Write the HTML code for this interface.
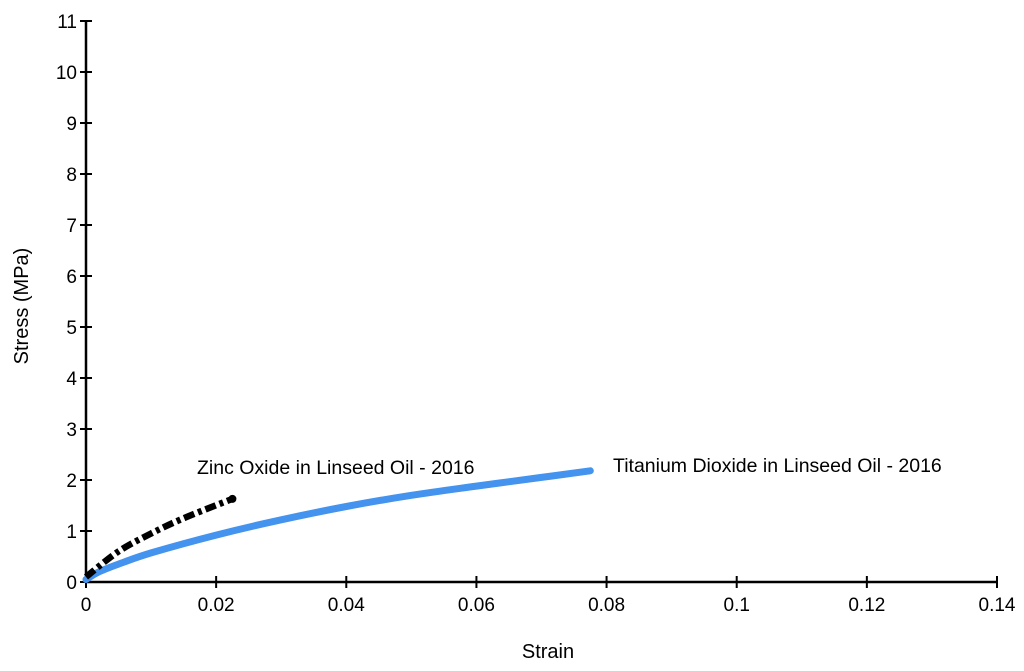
<!DOCTYPE html>
<html><head><meta charset="utf-8"><style>
body{margin:0;background:#fff;}
svg{display:block;font-family:"Liberation Sans",Arial,sans-serif;}
</style></head><body>
<svg id="chart" width="1024" height="671" viewBox="0 0 1024 671">
<g id="axes"></g><g id="series"></g>
<text transform="translate(28,306) rotate(-90)" text-anchor="middle" font-size="20">Stress (MPa)</text>
<text x="548" y="658" text-anchor="middle" font-size="20">Strain</text>
<text x="197" y="474" font-size="19.5">Zinc Oxide in Linseed Oil - 2016</text>
<text x="613" y="472" font-size="19.5">Titanium Dioxide in Linseed Oil - 2016</text>
</svg>
<script>
const xTicks=[0,0.02,0.04,0.06,0.08,0.1,0.12,0.14];
const xTickLabels=["0","0.02","0.04","0.06","0.08","0.1","0.12","0.14"];
const yTicks=[0,1,2,3,4,5,6,7,8,9,10,11];
const tiStrain=[0,0.002,0.005,0.01,0.02,0.03,0.04,0.05,0.06,0.07,0.0775];
const tiStress=[0.05,0.2,0.35,0.57,0.92,1.22,1.48,1.7,1.88,2.05,2.18];
const znStrain=[0,0.005,0.01,0.015,0.0225];
const znStress=[0.1,0.6,0.95,1.25,1.63];
const NS="http://www.w3.org/2000/svg";
const X=v=>86+v/0.14*911, Y=v=>582-v*51;
const ax=document.getElementById('axes'), se=document.getElementById('series');
function mk(tag,attrs,parent){const e=document.createElementNS(NS,tag);for(const k in attrs)e.setAttribute(k,attrs[k]);parent.appendChild(e);return e;}
let l=mk('line',{x1:86,y1:Y(0),x2:X(0.14),y2:Y(0),stroke:'#000','stroke-width':2.5},ax);


l=mk('line',{x1:86,y1:Y(0),x2:86,y2:Y(11),stroke:'#000','stroke-width':2.5},ax);


xTicks.forEach((v,i)=>{
 const t=mk('line',{x1:X(v),y1:Y(0)-6,x2:X(v),y2:Y(0)+6,stroke:'#000','stroke-width':2},ax);
 
 
 const tx=mk('text',{x:X(v),y:611,'text-anchor':'middle','font-size':19},ax);
 tx.textContent=xTickLabels[i];
 
 
});
yTicks.forEach(v=>{
 const t=mk('line',{x1:80,y1:Y(v),x2:92,y2:Y(v),stroke:'#000','stroke-width':2},ax);
 
 
 const tx=mk('text',{x:77,y:Y(v)+7,'text-anchor':'end','font-size':19},ax);
 tx.textContent=String(v);
 
 
});
function path(xs,ys){
 const p=xs.map((x,i)=>[X(x),Y(ys[i])]);
 let d='M'+p[0][0].toFixed(1)+','+p[0][1].toFixed(1);
 for(let i=0;i<p.length-1;i++){
  const p0=p[Math.max(0,i-1)],p1=p[i],p2=p[i+1],p3=p[Math.min(p.length-1,i+2)];
  const c1=[p1[0]+(p2[0]-p0[0])/6,p1[1]+(p2[1]-p0[1])/6];
  const c2=[p2[0]-(p3[0]-p1[0])/6,p2[1]-(p3[1]-p1[1])/6];
  d+=' C'+c1.map(n=>n.toFixed(1)).join(',')+' '+c2.map(n=>n.toFixed(1)).join(',')+' '+p2.map(n=>n.toFixed(1)).join(',');
 }
 return d;
}
const ti=mk('path',{d:path(tiStrain,tiStress),fill:'none',stroke:'#4393ef','stroke-width':7,'stroke-linecap':'round','stroke-linejoin':'round'},se);


const zn=mk('path',{d:path(znStrain,znStress),fill:'none',stroke:'#000','stroke-width':6.5,'stroke-dasharray':'11,4,4,4','stroke-linejoin':'round'},se);


const dot=mk('circle',{cx:X(znStrain[znStrain.length-1]),cy:Y(znStress[znStress.length-1]),r:4,fill:'#000'},se);


</script>
</body></html>
